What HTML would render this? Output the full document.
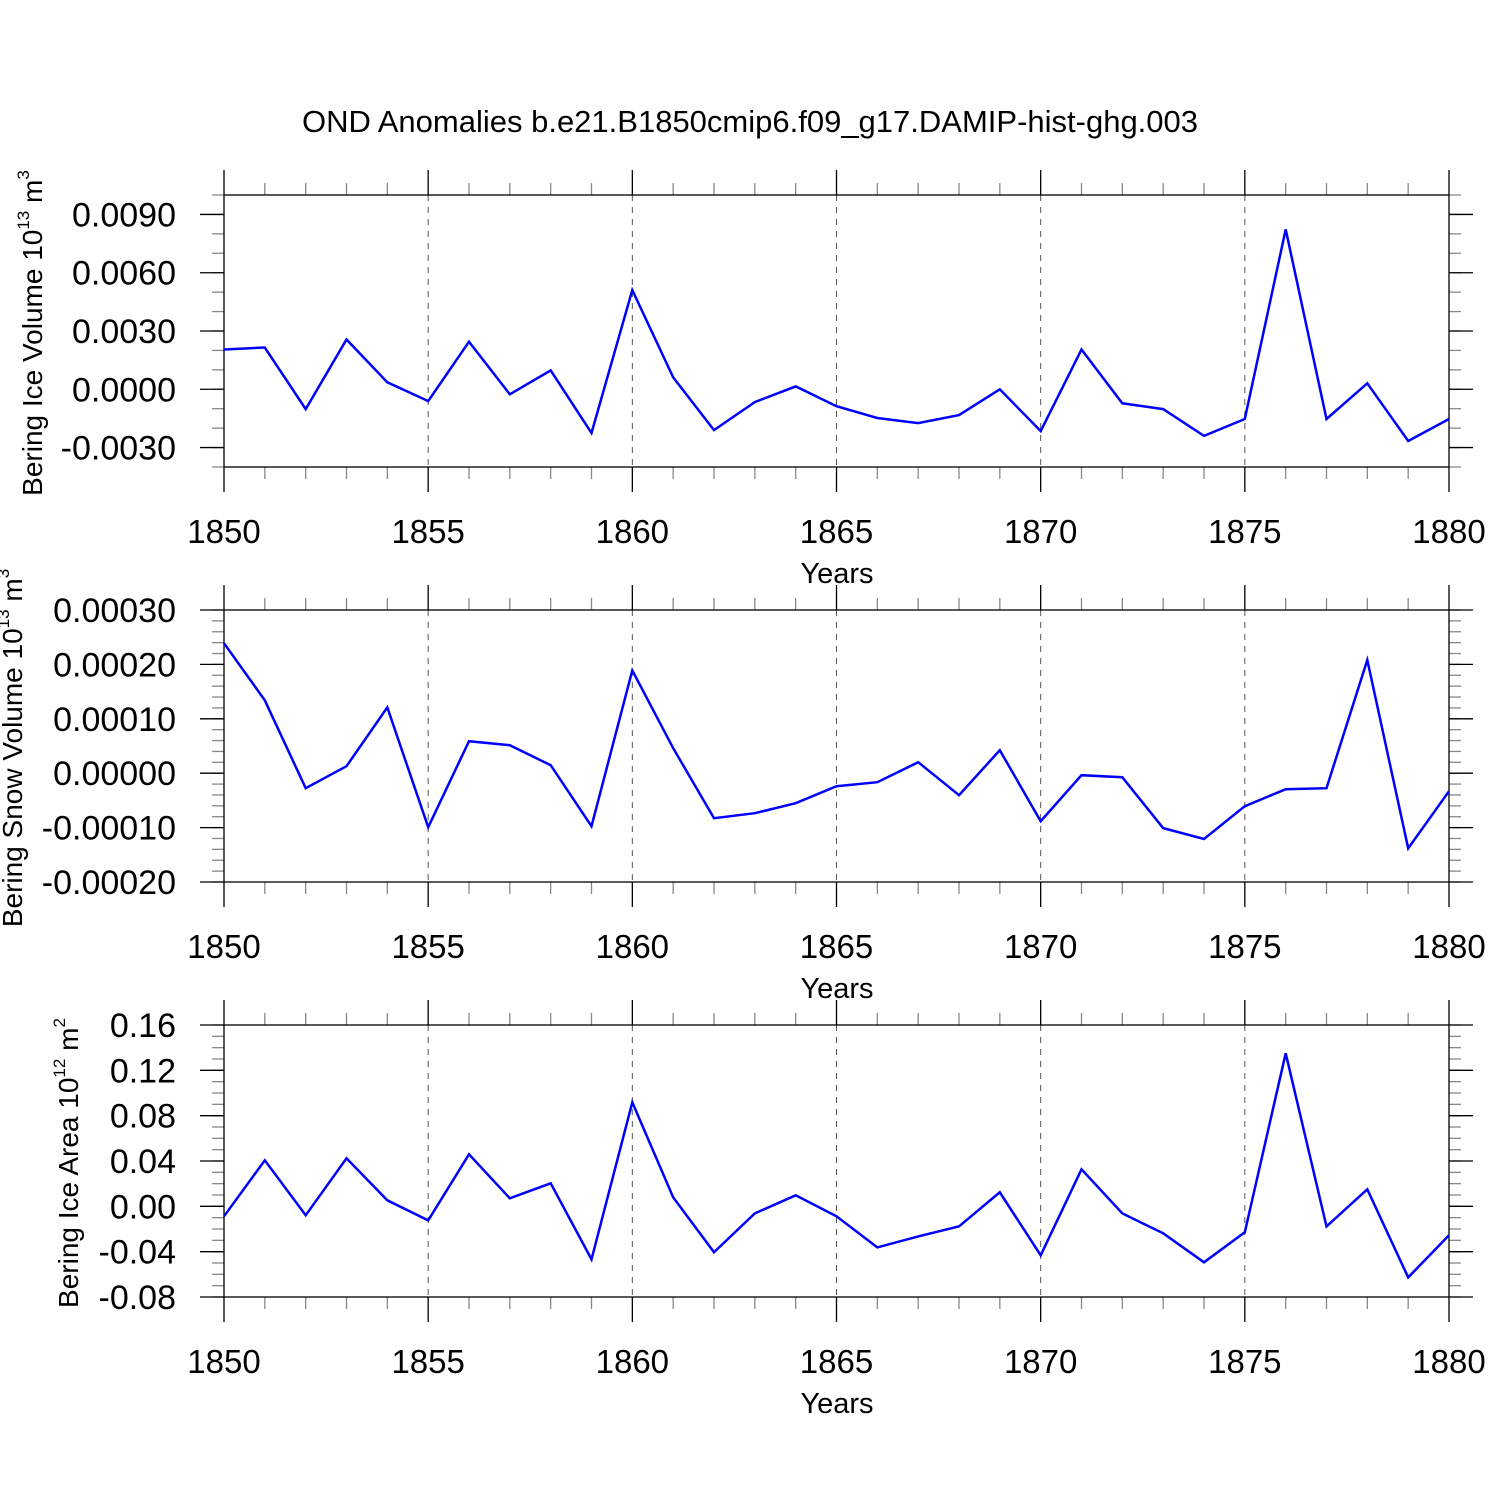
<!DOCTYPE html>
<html><head><meta charset="utf-8"><style>
body{margin:0;background:#fff;}
svg{display:block;font-family:"Liberation Sans",sans-serif;}
</style></head><body>
<svg id="chart" width="1500" height="1500" viewBox="0 0 1500 1500" xmlns="http://www.w3.org/2000/svg">
<text x="750" y="132" font-size="31" text-anchor="middle">OND Anomalies b.e21.B1850cmip6.f09_g17.DAMIP-hist-ghg.003</text>
</svg>
<script>
const years = [1850,1851,1852,1853,1854,1855,1856,1857,1858,1859,1860,1861,1862,1863,1864,1865,1866,1867,1868,1869,1870,1871,1872,1873,1874,1875,1876,1877,1878,1879,1880];
const iceVolume = [0.00205,0.00215,-0.00102,0.00256,0.00036,-0.00061,0.00245,-0.00026,0.00097,-0.00225,0.00511,0.00061,-0.0021,-0.00066,0.00015,-0.00087,-0.00148,-0.00174,-0.00133,0.0,-0.00215,0.00205,-0.00072,-0.00102,-0.0024,-0.00153,0.00823,-0.00153,0.00031,-0.00266,-0.00153];
const snowVolume = [0.000239,0.000134,-0.0000276,0.0000129,0.000121,-0.0000993,0.0000588,0.0000515,0.0000147,-0.0000974,0.000189,0.000046,-0.0000827,-0.0000735,-0.0000551,-0.0000239,-0.0000165,0.0000202,-0.0000404,0.0000423,-0.0000882,-0.0000037,-0.0000074,-0.000101,-0.000121,-0.0000607,-0.0000294,-0.0000276,0.000208,-0.000138,-0.0000331];
const iceArea = [-0.0088,0.0406,-0.0079,0.0424,0.0053,-0.0124,0.0459,0.0071,0.0203,-0.0468,0.0918,0.0079,-0.0406,-0.0062,0.0097,-0.0088,-0.0362,-0.0265,-0.0177,0.0124,-0.0432,0.0327,-0.0062,-0.0238,-0.0494,-0.0229,0.135,-0.0177,0.015,-0.0627,-0.0256];
const xTicks = [1850,1855,1860,1865,1870,1875,1880];
const ticks1 = ["0.0090","0.0060","0.0030","0.0000","-0.0030"];
const ticks2 = ["0.00030","0.00020","0.00010","0.00000","-0.00010","-0.00020"];
const ticks3 = ["0.16","0.12","0.08","0.04","0.00","-0.04","-0.08"];

const NS="http://www.w3.org/2000/svg";
const svg=document.getElementById('chart');
function mk(tag,attrs,parent){const e=document.createElementNS(NS,tag);for(const k in attrs)e.setAttribute(k,attrs[k]);(parent||svg).appendChild(e);return e;}
const X0=224,X1=1449;
function xs(yr){return X0+(yr-1850)/30*(X1-X0);}

function panel(cfg){
  const g=mk('g',{});
  
  
  const ys=v=>cfg.top+(cfg.ymax-v)/(cfg.ymax-cfg.ymin)*(cfg.bot-cfg.top);
  xTicks.forEach(t=>{ if(t>1850&&t<1880){const l=mk('line',{x1:xs(t),x2:xs(t),y1:cfg.top,y2:cfg.bot,stroke:'#555','stroke-width':1,'stroke-dasharray':'6,6'},g);
    
    }});
  for(let yr=1850;yr<=1880;yr++){
    const maj=yr%5===0, len=maj?25:12;
    mk('line',{x1:xs(yr),x2:xs(yr),y1:cfg.top,y2:cfg.top-len,stroke:maj?'#000':'#888','stroke-width':1.3},g);
    mk('line',{x1:xs(yr),x2:xs(yr),y1:cfg.bot,y2:cfg.bot+len,stroke:maj?'#000':'#888','stroke-width':1.3},g);
  }
  const n=Math.round((cfg.ymax-cfg.ymin)/cfg.minor);
  for(let i=0;i<=n;i++){const v=cfg.ymin+i*cfg.minor;const y=ys(v);
    mk('line',{x1:X0,x2:X0-12,y1:y,y2:y,stroke:'#888','stroke-width':1.3},g);
    mk('line',{x1:X1,x2:X1+12,y1:y,y2:y,stroke:'#888','stroke-width':1.3},g);}
  cfg.labels.forEach(lab=>{const v=parseFloat(lab);const y=ys(v);
    mk('line',{x1:X0,x2:X0-24,y1:y,y2:y,stroke:'#000','stroke-width':1.3},g);
    mk('line',{x1:X1,x2:X1+24,y1:y,y2:y,stroke:'#000','stroke-width':1.3},g);
    const t=mk('text',{x:X0-48,y:y+12,'font-size':34,'text-anchor':'end'},g);
    
    
    t.textContent=lab;});
  const r=mk('rect',{x:X0,y:cfg.top,width:X1-X0,height:cfg.bot-cfg.top,fill:'none',stroke:'#000','stroke-width':1.3},g);
  
  
  xTicks.forEach(t=>{const e=mk('text',{x:xs(t),y:cfg.bot+76,'font-size':33,'text-anchor':'middle'},g);
    
    
    e.textContent=t;});
  const xt=mk('text',{x:837,y:cfg.bot+116,'font-size':29,'text-anchor':'middle'},g);
  
  
  xt.textContent='Years';
  const yt=mk('text',{x:0,y:0,'font-size':28,'text-anchor':'middle',transform:`translate(${cfg.tx},${cfg.ty}) rotate(-90)`},g);
  
  
  yt.textContent=cfg.title+' 10';
  const s=mk('tspan',{'font-size':17,dy:-13},yt);s.textContent=cfg.exp;
  const s2=mk('tspan',{dy:13},yt);s2.textContent=' m';
  const s3=mk('tspan',{'font-size':17,dy:-13},yt);s3.textContent=cfg.unitExp;
  const pts=years.map((yr,i)=>xs(yr).toFixed(1)+','+ys(cfg.data[i]).toFixed(1)).join(' ');
  const pl=mk('polyline',{points:pts,fill:'none',stroke:'#0000ff','stroke-width':2.5,'stroke-linejoin':'miter'},g);
  
  
}
panel({name:'ice-volume-panel',top:195,bot:467,ymax:0.01,ymin:-0.004,minor:0.001,labels:ticks1,data:iceVolume,title:'Bering Ice Volume',exp:'13',unitExp:'3',tx:42,ty:333});
panel({name:'snow-volume-panel',top:610,bot:882,ymax:0.0003,ymin:-0.0002,minor:0.00002,labels:ticks2,data:snowVolume,title:'Bering Snow Volume',exp:'13',unitExp:'3',tx:22,ty:748});
panel({name:'ice-area-panel',top:1025,bot:1297,ymax:0.16,ymin:-0.08,minor:0.01,labels:ticks3,data:iceArea,title:'Bering Ice Area',exp:'12',unitExp:'2',tx:78,ty:1163});
</script>
</body></html>
